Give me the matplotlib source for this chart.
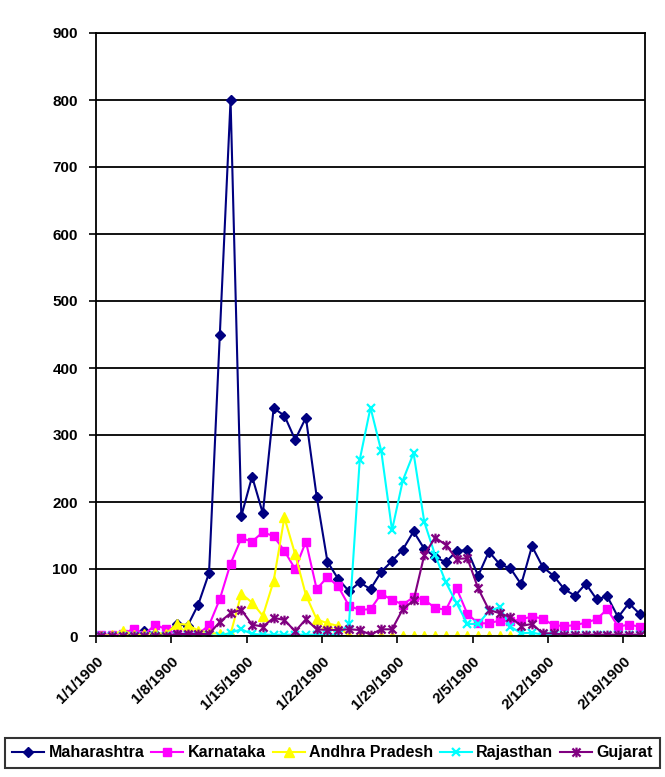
import matplotlib
matplotlib.use("Agg")
import matplotlib.pyplot as plt
from matplotlib.path import Path
import numpy as np
import pandas as pd

plt.rcParams['font.family'] = ['Liberation Sans', 'DejaVu Sans']
plt.rcParams['font.weight'] = 'bold'

# daily counts, 1/1/1900 .. 2/20/1900
dates = pd.date_range('1900-01-01', periods=51, freq='D')

maharashtra = [0, 0, 0, 2, 8, 3, 3, 18, 15, 47,
               94, 449, 800, 179, 238, 183, 340, 329, 293, 326,
               208, 111, 85, 67, 80, 70, 96, 112, 129, 156,
               130, 118, 110, 127, 128, 90, 126, 107, 101, 77,
               134, 103, 90, 70, 60, 78, 55, 59, 28, 49, 33]
karnataka = [2, 2, 3, 11, 2, 17, 10, 3, 3, 3,
             16, 55, 108, 146, 141, 155, 149, 127, 100, 141,
             70, 88, 74, 45, 39, 40, 63, 54, 47, 58,
             54, 42, 39, 71, 33, 19, 19, 23, 22, 25,
             29, 26, 16, 15, 16, 20, 25, 40, 14, 17, 14]
andhra = [0, 2, 8, 2, 3, 5, 3, 18, 17, 8,
          5, 3, 3, 63, 50, 30, 82, 177, 122, 61,
          25, 19, 15, 0, 0, 0, 0, 0, 0, 0,
          0, 0, 0, 0, 0, 0, 0, 0, 0, 0,
          0, 0, 0, None, None, None, None, None, None, None, None]
rajasthan = [0, 0, 0, 0, 0, 0, 0, 1, 1, 1,
             1, 0, 5, 10, 3, 2, 2, 2, 2, 2,
             2, 2, 2, 18, 263, 341, 276, 158, 232, 273,
             170, 121, 80, 49, 18, 18, 37, 43, 14, 4,
             5, 2, 1, 1, 1, 1, 1, 1, 1, 1, 1]
gujarat = [0, 0, 0, 0, 0, 0, 0, 3, 3, 3,
           3, 21, 34, 39, 17, 14, 27, 24, 7, 25,
           10, 9, 9, 10, 9, 2, 10, 10, 40, 53,
           121, 147, 136, 115, 116, 71, 39, 34, 28, 15,
           18, 4, 4, 2, 2, 2, 2, 2, 2, 2, 2]

names = ['Maharashtra', 'Karnataka', 'Andhra Pradesh', 'Rajasthan', 'Gujarat']
colors = ['#000080', '#FF00FF', '#FFFF00', '#00FFFF', '#800080']

# excel style star: x with a vertical stroke
star = Path([(-1, -1), (1, 1), (-1, 1), (1, -1), (0, -1.2), (0, 1.2)],
            [Path.MOVETO, Path.LINETO, Path.MOVETO, Path.LINETO, Path.MOVETO, Path.LINETO])

fig = plt.figure(figsize=(6.65, 7.77), dpi=100)
ax = fig.add_axes([96 / 665, 141 / 777, 549 / 665, 603 / 777])

xs = dates + pd.Timedelta(hours=12)
series = [maharashtra, karnataka, andhra, rajasthan, gujarat]
styles = [dict(marker='D', ms=5.5),
          dict(marker='s', ms=6),
          dict(marker='^', ms=7),
          dict(marker='x', ms=6, mew=1.6),
          dict(marker=star, ms=7, mew=1.6)]
for vals, name, c, st in zip(series, names, colors, styles):
    y = np.array([np.nan if v is None else v for v in vals], dtype=float)
    ax.plot(xs, y, color=c, lw=1.5, mfc=c, mec=c, label=name, **st)

ax.set_ylim(0, 900)
ax.set_yticks(range(0, 901, 100))
ax.set_xlim(dates[0], dates[-1] + pd.Timedelta(days=1))
ticks = pd.date_range('1900-01-01', '1900-02-20', freq='7D')
ax.set_xticks(ticks)
ax.set_xticklabels([f'{d.month}/{d.day}/{d.year}' for d in ticks],
                   rotation=45, ha='right', rotation_mode='anchor')
ax.tick_params(axis='both', labelsize=11, length=5, width=1.2, direction='out', colors='black')
ax.tick_params(axis='x', pad=8)
ax.tick_params(axis='y', pad=8)

ax.grid(axis='y', color='black', lw=1.3)
ax.set_axisbelow(True)
for s in ax.spines.values():
    s.set_color('black')
    s.set_linewidth(1.3)

leg = fig.legend(loc='lower center', bbox_to_anchor=(0.5, 0.012), ncol=5,
                 fontsize=11.5, frameon=True, fancybox=False, edgecolor='black',
                 handlelength=2.0, handletextpad=0.25, columnspacing=0.45,
                 borderpad=0.45, borderaxespad=0)
leg.get_frame().set_linewidth(1.5)
for t in leg.get_texts():
    t.set_fontweight('bold')

fig.savefig('out.png', dpi=100)
